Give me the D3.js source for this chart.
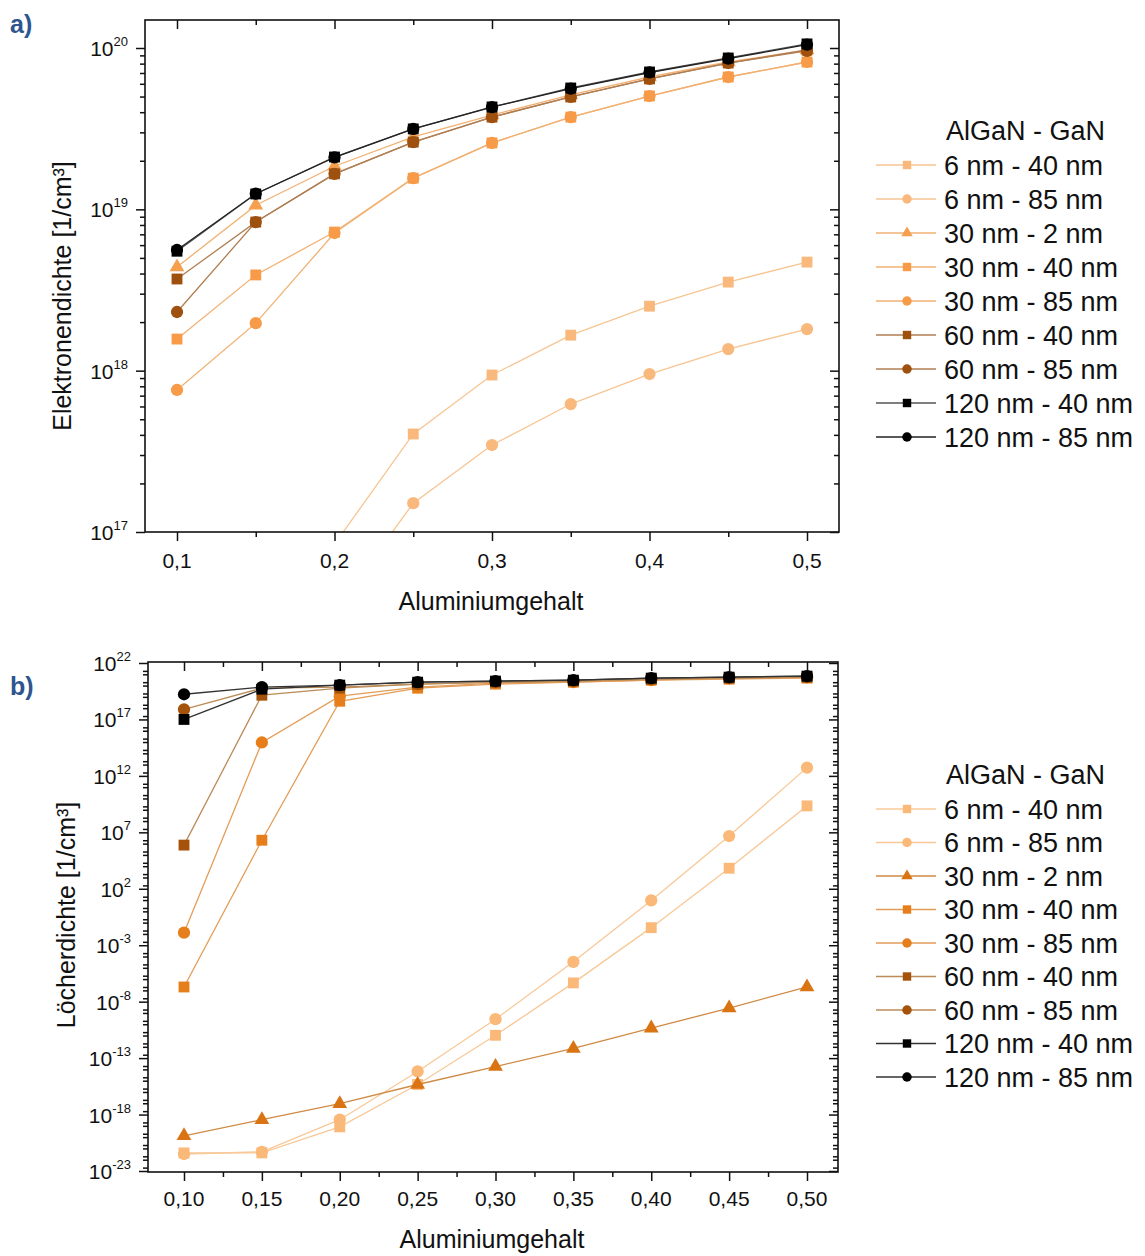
<!DOCTYPE html>
<html>
<head>
<meta charset="utf-8">
<script src="https://cdn.jsdelivr.net/npm/d3@7"></script>
<style>
  body { margin: 0; background: #fff; }
  text { font-family: "Liberation Sans", Arial, sans-serif; fill: #111; }
</style>
</head>
<body>
<svg id="chart" width="1145" height="1256"></svg>
<script>
// Aluminiumgehalt (x) values
const alGehalt = [0.1, 0.15, 0.2, 0.25, 0.3, 0.35, 0.4, 0.45, 0.5];

const legendTitle = "AlGaN - GaN";
const legendLabels = ["6 nm - 40 nm", "6 nm - 85 nm", "30 nm - 2 nm", "30 nm - 40 nm", "30 nm - 85 nm",
                      "60 nm - 40 nm", "60 nm - 85 nm", "120 nm - 40 nm", "120 nm - 85 nm"];
const markerShapes = ["square", "circle", "triangle", "square", "circle", "square", "circle", "square", "circle"];

// a) Elektronendichte [1/cm³]  (null = below the axis range)
const elec_6_40   = [null, null, 8.4e16, 4.05e17, 9.4e17, 1.66e18, 2.51e18, 3.54e18, 4.71e18];
const elec_6_85   = [null, null, 3.2e16, 1.51e17, 3.46e17, 6.21e17, 9.53e17, 1.36e18, 1.81e18];
const elec_30_2   = [4.39e18, 1.06e19, 1.85e19, 2.81e19, 3.84e19, 5.12e19, 6.61e19, 8.19e19, 9.72e19];
const elec_30_40  = [1.57e18, 3.92e18, 7.23e18, 1.56e19, 2.58e19, 3.73e19, 5.04e19, 6.61e19, 8.19e19];
const elec_30_85  = [7.59e17, 1.97e18, 7.13e18, 1.56e19, 2.58e19, 3.73e19, 5.04e19, 6.61e19, 8.19e19];
const elec_60_40  = [3.70e18, 8.34e18, 1.66e19, 2.61e19, 3.73e19, 4.97e19, 6.43e19, 8.07e19, 9.72e19];
const elec_60_85  = [2.31e18, 8.34e18, 1.66e19, 2.61e19, 3.73e19, 4.97e19, 6.43e19, 8.07e19, 9.6e19];
const elec_120_40 = [5.5e18, 1.245e19, 2.11e19, 3.15e19, 4.31e19, 5.65e19, 7.1e19, 8.67e19, 1.06e20];
const elec_120_85 = [5.6e18, 1.25e19, 2.1e19, 3.15e19, 4.3e19, 5.6e19, 7.05e19, 8.6e19, 1.05e20];

// b) Löcherdichte [1/cm³]
const hole_6_40   = [4.0e-22, 4.0e-22, 8.1e-20, 4.6e-16, 1.05e-11, 4.6e-7, 3.6e-2, 6.6e3, 2.2e9];
const hole_6_85   = [3.2e-22, 5.0e-22, 3.5e-19, 6.6e-15, 2.8e-10, 3.4e-5, 9.3, 4.7e6, 5.4e12];
const hole_30_2   = [1.3e-20, 3.5e-19, 9.1e-18, 4.6e-16, 1.8e-14, 7.2e-13, 4.5e-11, 2.7e-9, 2.0e-7];
const hole_30_40  = [2.0e-7, 2.0e6, 4.1e18, 5.9e19, 1.35e20, 2.0e20, 3.0e20, 3.7e20, 4.6e20];
const hole_30_85  = [1.3e-2, 9.1e14, 1.15e19, 7.2e19, 1.66e20, 2.0e20, 3.0e20, 4.6e20, 5.6e20];
const hole_60_40  = [7.4e5, 1.4e19, 5.9e19, 1.35e20, 2.0e20, 2.5e20, 3.7e20, 4.6e20, 5.6e20];
const hole_60_85  = [7.9e17, 5.9e19, 7.2e19, 1.35e20, 2.0e20, 2.5e20, 3.7e20, 4.6e20, 5.6e20];
const hole_120_40 = [1.0e17, 4.8e19, 1.1e20, 2.0e20, 2.5e20, 3.0e20, 4.6e20, 5.6e20, 6.9e20];
const hole_120_85 = [1.7e19, 7.2e19, 1.1e20, 2.0e20, 2.5e20, 3.0e20, 4.6e20, 5.6e20, 6.9e20];

// tick values
const xTicksA = [0.1, 0.2, 0.3, 0.4, 0.5];
const xMinorA = [0.15, 0.25, 0.35, 0.45];
const xTicksB = [0.1, 0.15, 0.2, 0.25, 0.3, 0.35, 0.4, 0.45, 0.5];
const xMinorB = [0.125, 0.175, 0.225, 0.275, 0.325, 0.375, 0.425, 0.475];
const yExpA = [17, 18, 19, 20];
const yExpB = [22, 17, 12, 7, 2, -3, -8, -13, -18, -23];

const svg = d3.select("#chart");

const panels = [
  {
    id: "a", tag: "a)", tagY: 33,
    frame: { left: 145, right: 839, top: 20, bottom: 532 },
    xRange: [177, 807], yRange: [532, 48], yDomain: [1e17, 1e20],
    xTicks: xTicksA, xMinor: xMinorA, xFmt: d3.format(".1f"),
    yExp: yExpA,
    yMinor: d3.merge([17, 18, 19].map(e => d3.range(2, 10).map(m => m * Math.pow(10, e)))),
    series: [elec_6_40, elec_6_85, elec_30_2, elec_30_40, elec_30_85, elec_60_40, elec_60_85, elec_120_40, elec_120_85],
    markerColors: ["#F9B97D", "#F9B97D", "#F5A04F", "#F79B48", "#F79B48", "#9E500F", "#9E500F", "#000", "#000"],
    lineColors: ["#F7C592", "#F7C592", "#F2B173", "#F2B173", "#F2B173", "#B07E52", "#B07E52", "#555", "#222"],
    yTitle: "Elektronendichte [1/cm³]", yTitlePos: [71, 296],
    xTitleY: 610,
    xLabelY: 568,
    legend: { x: 876, titleY: 140, firstY: 165, step: 34 }
  },
  {
    id: "b", tag: "b)", tagY: 695,
    frame: { left: 148, right: 838, top: 662, bottom: 1172 },
    xRange: [184, 807], yRange: [1171, 663], yDomain: [1e-23, 1e22],
    xTicks: xTicksB, xMinor: xMinorB, xFmt: d3.format(".2f"),
    yExp: yExpB,
    yMinor: d3.merge(d3.range(-23, 22).map(e => (e % 5 === 2 || e % 5 === -3) ? [2 * Math.pow(10, e)] : [Math.pow(10, e), 2 * Math.pow(10, e)])),
    series: [hole_6_40, hole_6_85, hole_30_2, hole_30_40, hole_30_85, hole_60_40, hole_60_85, hole_120_40, hole_120_85],
    markerColors: ["#FAB978", "#FAB978", "#DA7413", "#E57E1B", "#E57E1B", "#A5530B", "#A5530B", "#000", "#000"],
    lineColors: ["#F8C897", "#F8C897", "#CF8A45", "#E39D58", "#E39D58", "#BC8C58", "#BC8C58", "#333", "#333"],
    yTitle: "Löcherdichte [1/cm³]", yTitlePos: [75, 915],
    xTitleY: 1248,
    xLabelY: 1206,
    legend: { x: 876, titleY: 784, firstY: 809, step: 33.5 }
  }
];

function symbolPath(shape, scale) {
  if (shape === "square") return d3.symbol(d3.symbolSquare, 118 * scale)();
  if (shape === "triangle") return d3.symbol(d3.symbolTriangle, 95 * scale)();
  return d3.symbol(d3.symbolCircle, 118 * scale)();
}

function tickAxis(g, axisFn, scale, values, size, tx, ty) {
  g.append("g")
    .attr("transform", "translate(" + tx + "," + ty + ")")
    .call(axisFn(scale).tickValues(values).tickSize(size).tickFormat(""))
    .call(s => s.select(".domain").remove())
    .call(s => s.selectAll("line").attr("stroke", "#111").attr("stroke-width", 1.5));
}

function drawPanel(p) {
  const f = p.frame;
  const g = svg.append("g");

  const x = d3.scaleLinear().domain([0.1, 0.5]).range(p.xRange);
  const y = d3.scaleLog().domain(p.yDomain).range(p.yRange);

  g.append("clipPath").attr("id", "clip-" + p.id)
    .append("rect")
    .attr("x", f.left).attr("y", f.top)
    .attr("width", f.right - f.left).attr("height", f.bottom - f.top);

  const plot = g.append("g").attr("clip-path", "url(#clip-" + p.id + ")");
  const line = d3.line().x(d => x(d.a)).y(d => y(d.v));

  p.series.forEach((vals, i) => {
    const pts = alGehalt.map((a, j) => ({ a: a, v: vals[j] })).filter(d => d.v != null);
    plot.append("path")
      .datum(pts)
      .attr("d", line)
      .attr("fill", "none")
      .attr("stroke", p.lineColors[i])
      .attr("stroke-width", 1.3);
    plot.selectAll(null)
      .data(pts)
      .enter().append("path")
      .attr("transform", d => "translate(" + x(d.a) + "," + y(d.v) + ")")
      .attr("d", symbolPath(markerShapes[i], 1))
      .attr("fill", p.markerColors[i]);
  });

  // frame
  g.append("rect")
    .attr("x", f.left).attr("y", f.top)
    .attr("width", f.right - f.left).attr("height", f.bottom - f.top)
    .attr("fill", "none").attr("stroke", "#111").attr("stroke-width", 1.6);

  // ticks: left/bottom outward, right/top inward
  const yMajor = p.yExp.map(e => Math.pow(10, e));
  tickAxis(g, d3.axisLeft, y, yMajor, 9, f.left, 0);
  tickAxis(g, d3.axisLeft, y, p.yMinor, 5, f.left, 0);
  tickAxis(g, d3.axisLeft, y, yMajor, 9, f.right, 0);
  tickAxis(g, d3.axisLeft, y, p.yMinor, 5, f.right, 0);
  tickAxis(g, d3.axisBottom, x, p.xTicks, 9, 0, f.bottom);
  tickAxis(g, d3.axisBottom, x, p.xMinor, 5, 0, f.bottom);
  tickAxis(g, d3.axisBottom, x, p.xTicks, 9, 0, f.top);
  tickAxis(g, d3.axisBottom, x, p.xMinor, 5, 0, f.top);

  // x tick labels with decimal comma
  g.selectAll(null)
    .data(p.xTicks)
    .enter().append("text")
    .attr("x", d => x(d))
    .attr("y", p.xLabelY)
    .attr("text-anchor", "middle")
    .attr("font-size", 21)
    .text(d => p.xFmt(d).replace(".", ","));

  // y tick labels 10^n
  const yl = g.selectAll(null)
    .data(p.yExp)
    .enter().append("text")
    .attr("x", f.left - 17)
    .attr("y", d => y(Math.pow(10, d)) + 8)
    .attr("text-anchor", "end")
    .attr("font-size", 21);
  yl.append("tspan").text("10");
  yl.append("tspan").attr("font-size", 13).attr("dy", -10).text(d => d);

  // axis titles
  g.append("text")
    .attr("transform", "translate(" + p.yTitlePos[0] + "," + p.yTitlePos[1] + ") rotate(-90)")
    .attr("text-anchor", "middle")
    .attr("font-size", 25)
    .text(p.yTitle);

  g.append("text")
    .attr("x", (f.left + f.right) / 2 - 1)
    .attr("y", p.xTitleY)
    .attr("text-anchor", "middle")
    .attr("font-size", 25)
    .text("Aluminiumgehalt");

  // panel tag
  g.append("text")
    .attr("x", 10).attr("y", p.tagY)
    .attr("font-size", 25).attr("font-weight", "bold")
    .style("fill", "#2E5590")
    .text(p.tag);

  // legend
  const L = p.legend;
  g.append("text")
    .attr("x", L.x + 70).attr("y", L.titleY)
    .attr("font-size", 27)
    .text(legendTitle);

  legendLabels.forEach((lab, i) => {
    const ly = L.firstY + i * L.step;
    g.append("line")
      .attr("x1", L.x).attr("x2", L.x + 60)
      .attr("y1", ly).attr("y2", ly)
      .attr("stroke", p.lineColors[i]).attr("stroke-width", 1.5);
    g.append("path")
      .attr("transform", "translate(" + (L.x + 31) + "," + ly + ")")
      .attr("d", symbolPath(markerShapes[i], 0.6))
      .attr("fill", p.markerColors[i]);
    g.append("text")
      .attr("x", L.x + 68).attr("y", ly + 9.5)
      .attr("font-size", 27)
      .text(lab);
  });
}

panels.forEach(drawPanel);
</script>
</body>
</html>
